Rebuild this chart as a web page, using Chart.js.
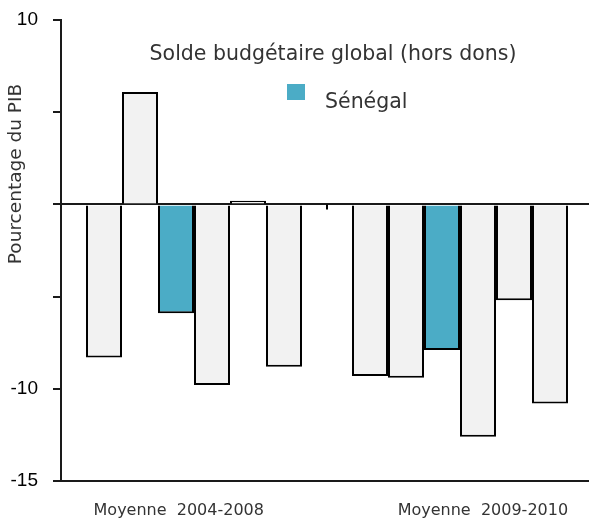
<!DOCTYPE html>
<html>
<head>
<meta charset="utf-8">
<script src="https://cdn.jsdelivr.net/npm/chart.js@4.4.1/dist/chart.umd.min.js"></script>
<style>
  html, body { margin: 0; padding: 0; background: #fff; overflow: hidden; }
  #wrap { width: 589px; height: 523px; overflow: hidden; }
  canvas { display: block; }
</style>
</head>
<body>
<div id="wrap"><canvas id="chart" width="597" height="523"></canvas></div>
<script>
// Categories (periods)
const categories = ['Moyenne  2004-2008', 'Moyenne  2009-2010'];

// Series values, % of GDP (one value per period)
const country1 = [-8.3, -9.3];
const country2 = [6.1, -9.4];
const senegal = [-5.9, -7.9];
const country4 = [-9.8, -12.6];
const country5 = [0.2, -5.2];
const country6 = [-8.8, -10.8];

// Y axis
const yMin = -15;
const yMax = 10;
const yStep = 5;
const yTicksShown = [10, -10, -15];

const chartTitle = 'Solde budgétaire global (hors dons)';
const yTitle = 'Pourcentage du PIB';

const GREY = '#f2f2f2';
const TEAL = '#4bacc6';
const TEXT = '#333333';

function barSet(label, data, color) {
  return {
    label: label,
    data: data,
    backgroundColor: color,
    borderColor: '#000',
    borderWidth: 2,
    borderSkipped: 'start'
  };
}

// draws the inner title, the legend, the y title and the tick between groups
const decorations = {
  id: 'decorations',
  afterDraw(chart) {
    const ctx = chart.ctx;
    const area = chart.chartArea;
    const x = chart.scales.x;
    const y = chart.scales.y;

    ctx.save();
    // separator tick on the zero line
    const sepX = (x.getPixelForValue(0) + x.getPixelForValue(1)) / 2;
    const zeroY = y.getPixelForValue(0);
    ctx.strokeStyle = '#000';
    ctx.lineWidth = 2;
    ctx.beginPath();
    ctx.moveTo(sepX, zeroY);
    ctx.lineTo(sepX, zeroY + 5);
    ctx.stroke();

    // inner title
    ctx.fillStyle = TEXT;
    ctx.font = '20.5px "DejaVu Sans"';
    ctx.textAlign = 'center';
    ctx.textBaseline = 'alphabetic';
    ctx.fillText(chartTitle, area.left + 272, area.top + 40);

    // legend (Sénégal only)
    const ds = chart.data.datasets[2];
    ctx.fillStyle = ds.backgroundColor;
    ctx.fillRect(area.left + 226, area.top + 64, 18, 16);
    ctx.fillStyle = TEXT;
    ctx.textAlign = 'left';
    ctx.fillText(ds.label, area.left + 264, area.top + 88);

    // y axis title
    ctx.translate(16, area.top + 154);
    ctx.rotate(-Math.PI / 2);
    ctx.font = '18.5px "DejaVu Sans"';
    ctx.textAlign = 'center';
    ctx.textBaseline = 'middle';
    ctx.fillText(yTitle, 0, 0);
    ctx.restore();
  }
};

new Chart(document.getElementById('chart'), {
  type: 'bar',
  data: {
    labels: categories,
    datasets: [
      barSet('', country1, GREY),
      barSet('', country2, GREY),
      barSet('Sénégal', senegal, TEAL),
      barSet('', country4, GREY),
      barSet('', country5, GREY),
      barSet('', country6, GREY)
    ]
  },
  options: {
    responsive: false,
    animation: false,
    layout: { padding: { top: 20, right: 4, left: 0, bottom: 0 } },
    datasets: {
      bar: { categoryPercentage: 0.812, barPercentage: 1 }
    },
    plugins: {
      legend: { display: false },
      title: { display: false },
      tooltip: { enabled: false }
    },
    scales: {
      x: {
        grid: { display: false, drawTicks: false },
        border: { display: true, color: '#1a1a1a', width: 2 },
        afterFit: (scale) => { scale.height = 42; },
        ticks: {
          color: TEXT,
          padding: 20,
          maxRotation: 0,
          autoSkip: false,
          font: { family: 'DejaVu Sans', size: 16 },
          callback: (v, i) => i === 0 ? categories[i] + ' '.repeat(6) : ' '.repeat(9) + categories[i]
        }
      },
      y: {
        min: yMin,
        max: yMax,
        afterFit: (scale) => {
          scale.width = 61;
          scale.paddingTop = 0;
          scale.paddingBottom = 0;
        },
        grid: {
          color: (c) => c.tick && c.tick.value === 0 ? '#1a1a1a' : 'rgba(0,0,0,0)',
          lineWidth: 2,
          tickColor: '#1a1a1a',
          tickWidth: 2,
          tickLength: 8
        },
        border: { display: true, color: '#1a1a1a', width: 2 },
        ticks: {
          stepSize: yStep,
          color: '#000',
          padding: 15,
          font: { family: 'Liberation Sans', size: 19 },
          callback: (v) => yTicksShown.includes(v) ? String(v) : ''
        }
      }
    }
  },
  plugins: [decorations]
});
</script>
</body>
</html>
